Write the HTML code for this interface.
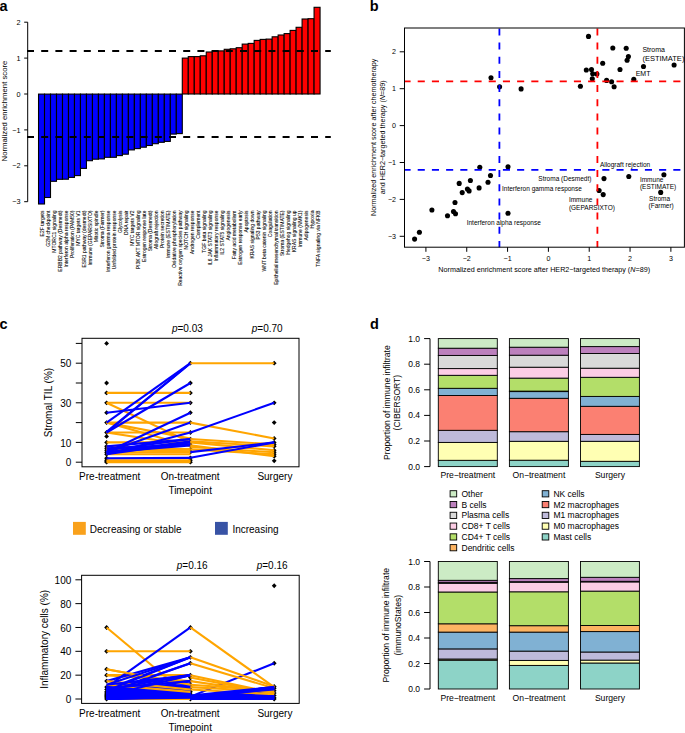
<!DOCTYPE html>
<html><head><meta charset="utf-8"><style>
html,body{margin:0;padding:0;background:#fff;}
svg{display:block;}
text{font-family:"Liberation Sans", sans-serif;}
</style></head><body>
<svg width="685" height="733" viewBox="0 0 685 733" font-family='"Liberation Sans", sans-serif'>
<rect width="685" height="733" fill="#fff"/>
<text x="-0.60" y="10.60" font-size="14.5" text-anchor="start" font-weight="bold" fill="#000">a</text>
<rect x="38.53" y="94.10" width="5.99" height="109.90" fill="#0000FF" stroke="#000" stroke-width="1.1"/><rect x="44.52" y="94.10" width="5.99" height="103.40" fill="#0000FF" stroke="#000" stroke-width="1.1"/><rect x="50.51" y="94.10" width="5.99" height="87.20" fill="#0000FF" stroke="#000" stroke-width="1.1"/><rect x="56.50" y="94.10" width="5.99" height="85.20" fill="#0000FF" stroke="#000" stroke-width="1.1"/><rect x="62.49" y="94.10" width="5.99" height="85.10" fill="#0000FF" stroke="#000" stroke-width="1.1"/><rect x="68.48" y="94.10" width="5.99" height="83.30" fill="#0000FF" stroke="#000" stroke-width="1.1"/><rect x="74.47" y="94.10" width="5.99" height="81.50" fill="#0000FF" stroke="#000" stroke-width="1.1"/><rect x="80.46" y="94.10" width="5.99" height="74.30" fill="#0000FF" stroke="#000" stroke-width="1.1"/><rect x="86.45" y="94.10" width="5.99" height="66.60" fill="#0000FF" stroke="#000" stroke-width="1.1"/><rect x="92.44" y="94.10" width="5.99" height="65.10" fill="#0000FF" stroke="#000" stroke-width="1.1"/><rect x="98.43" y="94.10" width="5.99" height="64.80" fill="#0000FF" stroke="#000" stroke-width="1.1"/><rect x="104.42" y="94.10" width="5.99" height="63.20" fill="#0000FF" stroke="#000" stroke-width="1.1"/><rect x="110.41" y="94.10" width="5.99" height="63.20" fill="#0000FF" stroke="#000" stroke-width="1.1"/><rect x="116.40" y="94.10" width="5.99" height="61.50" fill="#0000FF" stroke="#000" stroke-width="1.1"/><rect x="122.39" y="94.10" width="5.99" height="60.10" fill="#0000FF" stroke="#000" stroke-width="1.1"/><rect x="128.38" y="94.10" width="5.99" height="55.80" fill="#0000FF" stroke="#000" stroke-width="1.1"/><rect x="134.37" y="94.10" width="5.99" height="54.50" fill="#0000FF" stroke="#000" stroke-width="1.1"/><rect x="140.36" y="94.10" width="5.99" height="53.10" fill="#0000FF" stroke="#000" stroke-width="1.1"/><rect x="146.35" y="94.10" width="5.99" height="51.40" fill="#0000FF" stroke="#000" stroke-width="1.1"/><rect x="152.34" y="94.10" width="5.99" height="49.60" fill="#0000FF" stroke="#000" stroke-width="1.1"/><rect x="158.33" y="94.10" width="5.99" height="48.20" fill="#0000FF" stroke="#000" stroke-width="1.1"/><rect x="164.32" y="94.10" width="5.99" height="47.30" fill="#0000FF" stroke="#000" stroke-width="1.1"/><rect x="170.31" y="94.10" width="5.99" height="40.00" fill="#0000FF" stroke="#000" stroke-width="1.1"/><rect x="176.30" y="94.10" width="5.99" height="39.50" fill="#0000FF" stroke="#000" stroke-width="1.1"/><rect x="182.29" y="58.10" width="5.99" height="35.90" fill="#FF0000" stroke="#000" stroke-width="1.1"/><rect x="188.28" y="56.60" width="5.99" height="37.40" fill="#FF0000" stroke="#000" stroke-width="1.1"/><rect x="194.27" y="56.60" width="5.99" height="37.40" fill="#FF0000" stroke="#000" stroke-width="1.1"/><rect x="200.26" y="55.80" width="5.99" height="38.20" fill="#FF0000" stroke="#000" stroke-width="1.1"/><rect x="206.25" y="52.00" width="5.99" height="42.00" fill="#FF0000" stroke="#000" stroke-width="1.1"/><rect x="212.24" y="51.30" width="5.99" height="42.70" fill="#FF0000" stroke="#000" stroke-width="1.1"/><rect x="218.23" y="50.90" width="5.99" height="43.10" fill="#FF0000" stroke="#000" stroke-width="1.1"/><rect x="224.22" y="49.30" width="5.99" height="44.70" fill="#FF0000" stroke="#000" stroke-width="1.1"/><rect x="230.21" y="48.80" width="5.99" height="45.20" fill="#FF0000" stroke="#000" stroke-width="1.1"/><rect x="236.20" y="47.70" width="5.99" height="46.30" fill="#FF0000" stroke="#000" stroke-width="1.1"/><rect x="242.19" y="44.10" width="5.99" height="49.90" fill="#FF0000" stroke="#000" stroke-width="1.1"/><rect x="248.18" y="43.40" width="5.99" height="50.60" fill="#FF0000" stroke="#000" stroke-width="1.1"/><rect x="254.17" y="40.40" width="5.99" height="53.60" fill="#FF0000" stroke="#000" stroke-width="1.1"/><rect x="260.16" y="39.40" width="5.99" height="54.60" fill="#FF0000" stroke="#000" stroke-width="1.1"/><rect x="266.15" y="39.10" width="5.99" height="54.90" fill="#FF0000" stroke="#000" stroke-width="1.1"/><rect x="272.14" y="36.80" width="5.99" height="57.20" fill="#FF0000" stroke="#000" stroke-width="1.1"/><rect x="278.13" y="35.00" width="5.99" height="59.00" fill="#FF0000" stroke="#000" stroke-width="1.1"/><rect x="284.12" y="33.60" width="5.99" height="60.40" fill="#FF0000" stroke="#000" stroke-width="1.1"/><rect x="290.11" y="30.40" width="5.99" height="63.60" fill="#FF0000" stroke="#000" stroke-width="1.1"/><rect x="296.10" y="27.30" width="5.99" height="66.70" fill="#FF0000" stroke="#000" stroke-width="1.1"/><rect x="302.09" y="19.00" width="5.99" height="75.00" fill="#FF0000" stroke="#000" stroke-width="1.1"/><rect x="308.08" y="18.70" width="5.99" height="75.30" fill="#FF0000" stroke="#000" stroke-width="1.1"/><rect x="314.07" y="7.30" width="5.99" height="86.70" fill="#FF0000" stroke="#000" stroke-width="1.1"/>
<line x1="27" y1="50.9" x2="330.8" y2="50.9" stroke="#000" stroke-width="2" stroke-dasharray="7 7.2"/>
<line x1="27" y1="137.1" x2="330.8" y2="137.1" stroke="#000" stroke-width="2" stroke-dasharray="7 7.2"/>
<line x1="27.7" y1="22.20" x2="27.7" y2="201.70" stroke="#000" stroke-width="1"/>
<line x1="24.2" y1="22.20" x2="27.7" y2="22.20" stroke="#000" stroke-width="1"/>
<text x="20.60" y="24.80" font-size="7.3" text-anchor="end" fill="#000">2</text>
<line x1="24.2" y1="58.10" x2="27.7" y2="58.10" stroke="#000" stroke-width="1"/>
<text x="20.60" y="60.70" font-size="7.3" text-anchor="end" fill="#000">1</text>
<line x1="24.2" y1="94.00" x2="27.7" y2="94.00" stroke="#000" stroke-width="1"/>
<text x="20.60" y="96.60" font-size="7.3" text-anchor="end" fill="#000">0</text>
<line x1="24.2" y1="129.90" x2="27.7" y2="129.90" stroke="#000" stroke-width="1"/>
<text x="20.60" y="132.50" font-size="7.3" text-anchor="end" fill="#000">−1</text>
<line x1="24.2" y1="165.80" x2="27.7" y2="165.80" stroke="#000" stroke-width="1"/>
<text x="20.60" y="168.40" font-size="7.3" text-anchor="end" fill="#000">−2</text>
<line x1="24.2" y1="201.70" x2="27.7" y2="201.70" stroke="#000" stroke-width="1"/>
<text x="20.60" y="204.30" font-size="7.3" text-anchor="end" fill="#000">−3</text>
<text x="6.60" y="111.00" font-size="7.75" text-anchor="middle" transform="rotate(-90 6.6 111)" fill="#000">Normalized enrichment score</text>
<text x="43.62" y="210.50" font-size="5" text-anchor="end" transform="rotate(-90 43.625 210.5)" fill="#000" stroke="#000" stroke-width="0.07">E2F targets</text>
<text x="49.63" y="210.50" font-size="5" text-anchor="end" transform="rotate(-90 49.63 210.5)" fill="#000" stroke="#000" stroke-width="0.07">G2M checkpoint</text>
<text x="55.63" y="210.50" font-size="5" text-anchor="end" transform="rotate(-90 55.635 210.5)" fill="#000" stroke="#000" stroke-width="0.07">MTORC1 signaling</text>
<text x="61.64" y="210.50" font-size="5" text-anchor="end" transform="rotate(-90 61.64 210.5)" fill="#000" stroke="#000" stroke-width="0.07">ERBB2 pathway (Desmedt)</text>
<text x="67.64" y="210.50" font-size="5" text-anchor="end" transform="rotate(-90 67.645 210.5)" fill="#000" stroke="#000" stroke-width="0.07">Interferon alpha response</text>
<text x="73.65" y="210.50" font-size="5" text-anchor="end" transform="rotate(-90 73.64999999999999 210.5)" fill="#000" stroke="#000" stroke-width="0.07">Proliferation (PAM50)</text>
<text x="79.65" y="210.50" font-size="5" text-anchor="end" transform="rotate(-90 79.65499999999999 210.5)" fill="#000" stroke="#000" stroke-width="0.07">MYC targets V1</text>
<text x="85.66" y="210.50" font-size="5" text-anchor="end" transform="rotate(-90 85.65999999999998 210.5)" fill="#000" stroke="#000" stroke-width="0.07">ESR1 pathway (desmedt)</text>
<text x="91.66" y="210.50" font-size="5" text-anchor="end" transform="rotate(-90 91.66499999999999 210.5)" fill="#000" stroke="#000" stroke-width="0.07">Immune (GEPARSIXTO)</text>
<text x="97.67" y="210.50" font-size="5" text-anchor="end" transform="rotate(-90 97.67 210.5)" fill="#000" stroke="#000" stroke-width="0.07">Mitotic spindle</text>
<text x="103.67" y="210.50" font-size="5" text-anchor="end" transform="rotate(-90 103.675 210.5)" fill="#000" stroke="#000" stroke-width="0.07">Stroma (Farmer)</text>
<text x="109.68" y="210.50" font-size="5" text-anchor="end" transform="rotate(-90 109.67999999999999 210.5)" fill="#000" stroke="#000" stroke-width="0.07">Interferon gamma response</text>
<text x="115.68" y="210.50" font-size="5" text-anchor="end" transform="rotate(-90 115.68499999999999 210.5)" fill="#000" stroke="#000" stroke-width="0.07">Unfolded protein response</text>
<text x="121.69" y="210.50" font-size="5" text-anchor="end" transform="rotate(-90 121.68999999999998 210.5)" fill="#000" stroke="#000" stroke-width="0.07">Glycolysis</text>
<text x="127.69" y="210.50" font-size="5" text-anchor="end" transform="rotate(-90 127.69499999999998 210.5)" fill="#000" stroke="#000" stroke-width="0.07">DNA repair</text>
<text x="133.70" y="210.50" font-size="5" text-anchor="end" transform="rotate(-90 133.70000000000002 210.5)" fill="#000" stroke="#000" stroke-width="0.07">MYC targets V2</text>
<text x="139.71" y="210.50" font-size="5" text-anchor="end" transform="rotate(-90 139.705 210.5)" fill="#000" stroke="#000" stroke-width="0.07">PI3K AKT MTOR signaling</text>
<text x="145.71" y="210.50" font-size="5" text-anchor="end" transform="rotate(-90 145.71 210.5)" fill="#000" stroke="#000" stroke-width="0.07">Estrogen response late</text>
<text x="151.72" y="210.50" font-size="5" text-anchor="end" transform="rotate(-90 151.715 210.5)" fill="#000" stroke="#000" stroke-width="0.07">Stroma (Desmedt)</text>
<text x="157.72" y="210.50" font-size="5" text-anchor="end" transform="rotate(-90 157.72 210.5)" fill="#000" stroke="#000" stroke-width="0.07">Allograft rejection</text>
<text x="163.72" y="210.50" font-size="5" text-anchor="end" transform="rotate(-90 163.725 210.5)" fill="#000" stroke="#000" stroke-width="0.07">Protein secretion</text>
<text x="169.73" y="210.50" font-size="5" text-anchor="end" transform="rotate(-90 169.73000000000002 210.5)" fill="#000" stroke="#000" stroke-width="0.07">Immune (ESTIMATE)</text>
<text x="175.73" y="210.50" font-size="5" text-anchor="end" transform="rotate(-90 175.73499999999999 210.5)" fill="#000" stroke="#000" stroke-width="0.07">Oxidative phosphorylation</text>
<text x="181.74" y="210.50" font-size="5" text-anchor="end" transform="rotate(-90 181.74 210.5)" fill="#000" stroke="#000" stroke-width="0.07">Reactive oxygen species pathway</text>
<text x="187.75" y="210.50" font-size="5" text-anchor="end" transform="rotate(-90 187.745 210.5)" fill="#000" stroke="#000" stroke-width="0.07">NOTCH signaling</text>
<text x="193.75" y="210.50" font-size="5" text-anchor="end" transform="rotate(-90 193.75 210.5)" fill="#000" stroke="#000" stroke-width="0.07">Androgen response</text>
<text x="199.75" y="210.50" font-size="5" text-anchor="end" transform="rotate(-90 199.755 210.5)" fill="#000" stroke="#000" stroke-width="0.07">Complement</text>
<text x="205.76" y="210.50" font-size="5" text-anchor="end" transform="rotate(-90 205.76 210.5)" fill="#000" stroke="#000" stroke-width="0.07">TGF beta signaling</text>
<text x="211.76" y="210.50" font-size="5" text-anchor="end" transform="rotate(-90 211.765 210.5)" fill="#000" stroke="#000" stroke-width="0.07">IL6 JAK STAT3 signaling</text>
<text x="217.77" y="210.50" font-size="5" text-anchor="end" transform="rotate(-90 217.77 210.5)" fill="#000" stroke="#000" stroke-width="0.07">Inflammatory response</text>
<text x="223.78" y="210.50" font-size="5" text-anchor="end" transform="rotate(-90 223.775 210.5)" fill="#000" stroke="#000" stroke-width="0.07">IL2 STAT5 signaling</text>
<text x="229.78" y="210.50" font-size="5" text-anchor="end" transform="rotate(-90 229.78 210.5)" fill="#000" stroke="#000" stroke-width="0.07">Angiogenesis</text>
<text x="235.78" y="210.50" font-size="5" text-anchor="end" transform="rotate(-90 235.785 210.5)" fill="#000" stroke="#000" stroke-width="0.07">Fatty acid metabolism</text>
<text x="241.79" y="210.50" font-size="5" text-anchor="end" transform="rotate(-90 241.79 210.5)" fill="#000" stroke="#000" stroke-width="0.07">Estrogen response early</text>
<text x="247.79" y="210.50" font-size="5" text-anchor="end" transform="rotate(-90 247.795 210.5)" fill="#000" stroke="#000" stroke-width="0.07">Apoptosis</text>
<text x="253.80" y="210.50" font-size="5" text-anchor="end" transform="rotate(-90 253.79999999999998 210.5)" fill="#000" stroke="#000" stroke-width="0.07">KRAS signaling down</text>
<text x="259.81" y="210.50" font-size="5" text-anchor="end" transform="rotate(-90 259.805 210.5)" fill="#000" stroke="#000" stroke-width="0.07">P53 pathway</text>
<text x="265.81" y="210.50" font-size="5" text-anchor="end" transform="rotate(-90 265.81000000000006 210.5)" fill="#000" stroke="#000" stroke-width="0.07">WNT beta catenin signaling</text>
<text x="271.82" y="210.50" font-size="5" text-anchor="end" transform="rotate(-90 271.81500000000005 210.5)" fill="#000" stroke="#000" stroke-width="0.07">Coagulation</text>
<text x="277.82" y="210.50" font-size="5" text-anchor="end" transform="rotate(-90 277.82000000000005 210.5)" fill="#000" stroke="#000" stroke-width="0.07">Epithelial mesenchymal transition</text>
<text x="283.83" y="210.50" font-size="5" text-anchor="end" transform="rotate(-90 283.82500000000005 210.5)" fill="#000" stroke="#000" stroke-width="0.07">Stroma (ESTIMATE)</text>
<text x="289.83" y="210.50" font-size="5" text-anchor="end" transform="rotate(-90 289.83000000000004 210.5)" fill="#000" stroke="#000" stroke-width="0.07">Hedgehog signaling</text>
<text x="295.84" y="210.50" font-size="5" text-anchor="end" transform="rotate(-90 295.83500000000004 210.5)" fill="#000" stroke="#000" stroke-width="0.07">KRAS signaling up</text>
<text x="301.84" y="210.50" font-size="5" text-anchor="end" transform="rotate(-90 301.84000000000003 210.5)" fill="#000" stroke="#000" stroke-width="0.07">Immune (NMK1)</text>
<text x="307.85" y="210.50" font-size="5" text-anchor="end" transform="rotate(-90 307.845 210.5)" fill="#000" stroke="#000" stroke-width="0.07">Adipogenesis</text>
<text x="313.85" y="210.50" font-size="5" text-anchor="end" transform="rotate(-90 313.8500000000001 210.5)" fill="#000" stroke="#000" stroke-width="0.07">Hypoxia</text>
<text x="319.86" y="210.50" font-size="5" text-anchor="end" transform="rotate(-90 319.8550000000001 210.5)" fill="#000" stroke="#000" stroke-width="0.07">TNFA signaling via NFKB</text>
<text x="369.80" y="10.70" font-size="14.5" text-anchor="start" font-weight="bold" fill="#000">b</text>
<circle cx="414.6" cy="239.1" r="2.55" fill="#000"/><circle cx="419.4" cy="232.2" r="2.55" fill="#000"/><circle cx="431.9" cy="210.0" r="2.55" fill="#000"/><circle cx="447.5" cy="215.7" r="2.55" fill="#000"/><circle cx="453.5" cy="211.5" r="2.55" fill="#000"/><circle cx="455.5" cy="213.7" r="2.55" fill="#000"/><circle cx="455.0" cy="202.5" r="2.55" fill="#000"/><circle cx="459.2" cy="183.4" r="2.55" fill="#000"/><circle cx="462.2" cy="192.6" r="2.55" fill="#000"/><circle cx="467.4" cy="189.1" r="2.55" fill="#000"/><circle cx="469.1" cy="190.9" r="2.55" fill="#000"/><circle cx="470.4" cy="180.5" r="2.55" fill="#000"/><circle cx="479.1" cy="187.9" r="2.55" fill="#000"/><circle cx="479.8" cy="167.3" r="2.55" fill="#000"/><circle cx="488.0" cy="182.2" r="2.55" fill="#000"/><circle cx="490.5" cy="175.5" r="2.55" fill="#000"/><circle cx="508.0" cy="166.7" r="2.55" fill="#000"/><circle cx="508.0" cy="213.3" r="2.55" fill="#000"/><circle cx="491.0" cy="77.8" r="2.55" fill="#000"/><circle cx="499.6" cy="86.8" r="2.55" fill="#000"/><circle cx="521.1" cy="88.9" r="2.55" fill="#000"/><circle cx="588.5" cy="36.4" r="2.55" fill="#000"/><circle cx="612.8" cy="48.0" r="2.55" fill="#000"/><circle cx="626.2" cy="48.2" r="2.55" fill="#000"/><circle cx="628.4" cy="56.6" r="2.55" fill="#000"/><circle cx="627.1" cy="60.3" r="2.55" fill="#000"/><circle cx="602.7" cy="63.3" r="2.55" fill="#000"/><circle cx="643.5" cy="66.5" r="2.55" fill="#000"/><circle cx="674.1" cy="65.0" r="2.55" fill="#000"/><circle cx="620.0" cy="69.5" r="2.55" fill="#000"/><circle cx="586.3" cy="70.0" r="2.55" fill="#000"/><circle cx="591.5" cy="69.5" r="2.55" fill="#000"/><circle cx="592.7" cy="73.7" r="2.55" fill="#000"/><circle cx="596.9" cy="74.0" r="2.55" fill="#000"/><circle cx="592.3" cy="78.7" r="2.55" fill="#000"/><circle cx="633.8" cy="79.2" r="2.55" fill="#000"/><circle cx="606.6" cy="80.4" r="2.55" fill="#000"/><circle cx="611.6" cy="81.7" r="2.55" fill="#000"/><circle cx="614.1" cy="86.8" r="2.55" fill="#000"/><circle cx="580.4" cy="86.3" r="2.55" fill="#000"/><circle cx="604.0" cy="178.6" r="2.55" fill="#000"/><circle cx="628.8" cy="176.5" r="2.55" fill="#000"/><circle cx="663.9" cy="174.8" r="2.55" fill="#000"/><circle cx="599.1" cy="190.5" r="2.55" fill="#000"/><circle cx="603.2" cy="194.6" r="2.55" fill="#000"/><circle cx="660.7" cy="192.4" r="2.55" fill="#000"/>
<line x1="499.40" y1="28.4" x2="499.40" y2="247.2" stroke="#0000FF" stroke-width="1.8" stroke-dasharray="7 7.17"/>
<line x1="597.40" y1="28.4" x2="597.40" y2="247.2" stroke="#FF0000" stroke-width="1.8" stroke-dasharray="7 7.17"/>
<line x1="404.5" y1="81.32" x2="684.4" y2="81.32" stroke="#FF0000" stroke-width="1.8" stroke-dasharray="7.1 7.1" stroke-dashoffset="1.0"/>
<line x1="404.5" y1="169.88" x2="684.4" y2="169.88" stroke="#0000FF" stroke-width="1.8" stroke-dasharray="7.1 7.1" stroke-dashoffset="1.0"/>
<rect x="404.5" y="28.0" width="279.9" height="219.2" fill="none" stroke="#000" stroke-width="1"/>
<line x1="425.91" y1="247.2" x2="425.91" y2="251.79999999999998" stroke="#000" stroke-width="1"/>
<text x="425.91" y="261.00" font-size="7.1" text-anchor="middle" fill="#000">−3</text>
<line x1="466.74" y1="247.2" x2="466.74" y2="251.79999999999998" stroke="#000" stroke-width="1"/>
<text x="466.74" y="261.00" font-size="7.1" text-anchor="middle" fill="#000">−2</text>
<line x1="507.57" y1="247.2" x2="507.57" y2="251.79999999999998" stroke="#000" stroke-width="1"/>
<text x="507.57" y="261.00" font-size="7.1" text-anchor="middle" fill="#000">−1</text>
<line x1="548.40" y1="247.2" x2="548.40" y2="251.79999999999998" stroke="#000" stroke-width="1"/>
<text x="548.40" y="261.00" font-size="7.1" text-anchor="middle" fill="#000">0</text>
<line x1="589.23" y1="247.2" x2="589.23" y2="251.79999999999998" stroke="#000" stroke-width="1"/>
<text x="589.23" y="261.00" font-size="7.1" text-anchor="middle" fill="#000">1</text>
<line x1="630.06" y1="247.2" x2="630.06" y2="251.79999999999998" stroke="#000" stroke-width="1"/>
<text x="630.06" y="261.00" font-size="7.1" text-anchor="middle" fill="#000">2</text>
<line x1="670.89" y1="247.2" x2="670.89" y2="251.79999999999998" stroke="#000" stroke-width="1"/>
<text x="670.89" y="261.00" font-size="7.1" text-anchor="middle" fill="#000">3</text>
<line x1="399.7" y1="51.80" x2="404.5" y2="51.80" stroke="#000" stroke-width="1"/>
<text x="396.00" y="54.30" font-size="7.1" text-anchor="end" fill="#000">2</text>
<line x1="399.7" y1="88.70" x2="404.5" y2="88.70" stroke="#000" stroke-width="1"/>
<text x="396.00" y="91.20" font-size="7.1" text-anchor="end" fill="#000">1</text>
<line x1="399.7" y1="125.60" x2="404.5" y2="125.60" stroke="#000" stroke-width="1"/>
<text x="396.00" y="128.10" font-size="7.1" text-anchor="end" fill="#000">0</text>
<line x1="399.7" y1="162.50" x2="404.5" y2="162.50" stroke="#000" stroke-width="1"/>
<text x="396.00" y="165.00" font-size="7.1" text-anchor="end" fill="#000">−1</text>
<line x1="399.7" y1="199.40" x2="404.5" y2="199.40" stroke="#000" stroke-width="1"/>
<text x="396.00" y="201.90" font-size="7.1" text-anchor="end" fill="#000">−2</text>
<line x1="399.7" y1="236.30" x2="404.5" y2="236.30" stroke="#000" stroke-width="1"/>
<text x="396.00" y="238.80" font-size="7.1" text-anchor="end" fill="#000">−3</text>
<text x="544.20" y="272.00" font-size="7.2" text-anchor="middle" fill="#000">Normalized enrichment score after HER2−targeted therapy (<tspan font-style="italic">N</tspan>=89)</text>
<text x="376.20" y="137.30" font-size="7.2" text-anchor="middle" transform="rotate(-90 376.2 137.3)" fill="#000">Normalized enrichment score after chemotherapy</text>
<text x="384.70" y="137.30" font-size="7.2" text-anchor="middle" transform="rotate(-90 384.7 137.3)" fill="#000">and HER2−targeted therapy (<tspan font-style="italic">N</tspan>=89)</text>
<text x="642.40" y="51.80" font-size="7.0" text-anchor="start" fill="#000">Stroma</text>
<text x="642.40" y="60.60" font-size="7.05" text-anchor="start" fill="#000" textLength="42.0" lengthAdjust="spacingAndGlyphs">(ESTIMATE)</text>
<text x="635.70" y="75.60" font-size="7.0" text-anchor="start" fill="#000">EMT</text>
<text x="599.90" y="166.50" font-size="6.5" text-anchor="start" fill="#000">Allograft rejection</text>
<text x="538.30" y="180.60" font-size="6.5" text-anchor="start" fill="#000">Stroma (Desmedt)</text>
<text x="502.00" y="190.50" font-size="6.5" text-anchor="start" fill="#000">Interferon gamma response</text>
<text x="568.90" y="202.30" font-size="6.5" text-anchor="start" fill="#000">Immune</text>
<text x="568.90" y="209.80" font-size="6.5" text-anchor="start" fill="#000">(GEPARSIXTO)</text>
<text x="639.90" y="182.20" font-size="6.5" text-anchor="start" fill="#000">Immune</text>
<text x="639.90" y="189.20" font-size="6.5" text-anchor="start" fill="#000">(ESTIMATE)</text>
<text x="649.10" y="200.80" font-size="6.5" text-anchor="start" fill="#000">Stroma</text>
<text x="648.50" y="208.40" font-size="6.5" text-anchor="start" fill="#000">(Farmer)</text>
<text x="466.70" y="224.60" font-size="6.5" text-anchor="start" fill="#000">Interferon alpha response</text>
<text x="-0.60" y="329.10" font-size="14.5" text-anchor="start" font-weight="bold" fill="#000">c</text>
<path d="M106.60 341.00L109.00 343.40L106.60 345.80L104.20 343.40Z" fill="#000"/><path d="M106.60 380.60L109.00 383.00L106.60 385.40L104.20 383.00Z" fill="#000"/><path d="M106.60 390.50L109.00 392.90L106.60 395.30L104.20 392.90Z" fill="#000"/><path d="M106.60 400.40L109.00 402.80L106.60 405.20L104.20 402.80Z" fill="#000"/><path d="M106.60 410.30L109.00 412.70L106.60 415.10L104.20 412.70Z" fill="#000"/><path d="M106.60 420.20L109.00 422.60L106.60 425.00L104.20 422.60Z" fill="#000"/><path d="M106.60 430.10L109.00 432.50L106.60 434.90L104.20 432.50Z" fill="#000"/><path d="M106.60 434.06L109.00 436.46L106.60 438.86L104.20 436.46Z" fill="#000"/><path d="M106.60 440.00L109.00 442.40L106.60 444.80L104.20 442.40Z" fill="#000"/><path d="M106.60 443.96L109.00 446.36L106.60 448.76L104.20 446.36Z" fill="#000"/><path d="M106.60 445.94L109.00 448.34L106.60 450.74L104.20 448.34Z" fill="#000"/><path d="M106.60 447.92L109.00 450.32L106.60 452.72L104.20 450.32Z" fill="#000"/><path d="M106.60 449.90L109.00 452.30L106.60 454.70L104.20 452.30Z" fill="#000"/><path d="M106.60 451.88L109.00 454.28L106.60 456.68L104.20 454.28Z" fill="#000"/><path d="M106.60 455.84L109.00 458.24L106.60 460.64L104.20 458.24Z" fill="#000"/><path d="M106.60 457.82L109.00 460.22L106.60 462.62L104.20 460.22Z" fill="#000"/><path d="M106.60 458.81L109.00 461.21L106.60 463.61L104.20 461.21Z" fill="#000"/><path d="M106.60 459.80L109.00 462.20L106.60 464.60L104.20 462.20Z" fill="#000"/><path d="M190.40 360.80L192.80 363.20L190.40 365.60L188.00 363.20Z" fill="#000"/><path d="M190.40 380.60L192.80 383.00L190.40 385.40L188.00 383.00Z" fill="#000"/><path d="M190.40 390.50L192.80 392.90L190.40 395.30L188.00 392.90Z" fill="#000"/><path d="M190.40 400.40L192.80 402.80L190.40 405.20L188.00 402.80Z" fill="#000"/><path d="M190.40 410.30L192.80 412.70L190.40 415.10L188.00 412.70Z" fill="#000"/><path d="M190.40 420.20L192.80 422.60L190.40 425.00L188.00 422.60Z" fill="#000"/><path d="M190.40 430.10L192.80 432.50L190.40 434.90L188.00 432.50Z" fill="#000"/><path d="M190.40 436.63L192.80 439.03L190.40 441.43L188.00 439.03Z" fill="#000"/><path d="M190.40 440.00L192.80 442.40L190.40 444.80L188.00 442.40Z" fill="#000"/><path d="M190.40 442.97L192.80 445.37L190.40 447.77L188.00 445.37Z" fill="#000"/><path d="M190.40 446.93L192.80 449.33L190.40 451.73L188.00 449.33Z" fill="#000"/><path d="M190.40 449.70L192.80 452.10L190.40 454.50L188.00 452.10Z" fill="#000"/><path d="M190.40 455.44L192.80 457.84L190.40 460.24L188.00 457.84Z" fill="#000"/><path d="M190.40 457.82L192.80 460.22L190.40 462.62L188.00 460.22Z" fill="#000"/><path d="M190.40 459.80L192.80 462.20L190.40 464.60L188.00 462.20Z" fill="#000"/><path d="M274.20 360.80L276.60 363.20L274.20 365.60L271.80 363.20Z" fill="#000"/><path d="M274.20 400.40L276.60 402.80L274.20 405.20L271.80 402.80Z" fill="#000"/><path d="M274.20 420.20L276.60 422.60L274.20 425.00L271.80 422.60Z" fill="#000"/><path d="M274.20 436.04L276.60 438.44L274.20 440.84L271.80 438.44Z" fill="#000"/><path d="M274.20 440.00L276.60 442.40L274.20 444.80L271.80 442.40Z" fill="#000"/><path d="M274.20 441.98L276.60 444.38L274.20 446.78L271.80 444.38Z" fill="#000"/><path d="M274.20 443.96L276.60 446.36L274.20 448.76L271.80 446.36Z" fill="#000"/><path d="M274.20 447.92L276.60 450.32L274.20 452.72L271.80 450.32Z" fill="#000"/><path d="M274.20 449.90L276.60 452.30L274.20 454.70L271.80 452.30Z" fill="#000"/><path d="M274.20 451.88L276.60 454.28L274.20 456.68L271.80 454.28Z" fill="#000"/><path d="M274.20 453.86L276.60 456.26L274.20 458.66L271.80 456.26Z" fill="#000"/><path d="M274.20 458.41L276.60 460.81L274.20 463.21L271.80 460.81Z" fill="#000"/>
<line x1="106.60" y1="392.90" x2="190.40" y2="392.90" stroke="#FFA500" stroke-width="2.1"/><line x1="106.60" y1="402.80" x2="190.40" y2="402.80" stroke="#FFA500" stroke-width="2.1"/><line x1="106.60" y1="402.80" x2="190.40" y2="442.40" stroke="#FFA500" stroke-width="2.1"/><line x1="106.60" y1="422.60" x2="190.40" y2="422.60" stroke="#FFA500" stroke-width="2.1"/><line x1="106.60" y1="422.60" x2="190.40" y2="438.44" stroke="#FFA500" stroke-width="2.1"/><line x1="106.60" y1="422.60" x2="190.40" y2="446.36" stroke="#FFA500" stroke-width="2.1"/><line x1="106.60" y1="432.50" x2="190.40" y2="432.50" stroke="#FFA500" stroke-width="2.1"/><line x1="106.60" y1="432.50" x2="190.40" y2="445.37" stroke="#FFA500" stroke-width="2.1"/><line x1="106.60" y1="442.40" x2="190.40" y2="442.40" stroke="#FFA500" stroke-width="2.1"/><line x1="106.60" y1="446.36" x2="190.40" y2="449.33" stroke="#FFA500" stroke-width="2.1"/><line x1="106.60" y1="448.34" x2="190.40" y2="452.10" stroke="#FFA500" stroke-width="2.1"/><line x1="106.60" y1="450.32" x2="190.40" y2="449.33" stroke="#FFA500" stroke-width="2.1"/><line x1="106.60" y1="452.30" x2="190.40" y2="452.10" stroke="#FFA500" stroke-width="2.1"/><line x1="106.60" y1="454.28" x2="190.40" y2="454.28" stroke="#FFA500" stroke-width="2.1"/><line x1="106.60" y1="460.22" x2="190.40" y2="460.22" stroke="#FFA500" stroke-width="2.1"/><line x1="106.60" y1="461.21" x2="190.40" y2="461.21" stroke="#FFA500" stroke-width="2.1"/><line x1="106.60" y1="462.20" x2="190.40" y2="462.20" stroke="#FFA500" stroke-width="2.1"/><line x1="106.60" y1="449.33" x2="190.40" y2="451.31" stroke="#FFA500" stroke-width="2.1"/><line x1="106.60" y1="432.50" x2="190.40" y2="363.20" stroke="#0000FF" stroke-width="2.1"/><line x1="106.60" y1="431.91" x2="190.40" y2="363.20" stroke="#0000FF" stroke-width="2.1"/><line x1="106.60" y1="422.60" x2="190.40" y2="363.20" stroke="#0000FF" stroke-width="2.1"/><line x1="106.60" y1="432.50" x2="190.40" y2="383.00" stroke="#0000FF" stroke-width="2.1"/><line x1="106.60" y1="412.70" x2="190.40" y2="402.80" stroke="#0000FF" stroke-width="2.1"/><line x1="106.60" y1="452.30" x2="190.40" y2="412.70" stroke="#0000FF" stroke-width="2.1"/><line x1="106.60" y1="452.30" x2="190.40" y2="422.60" stroke="#0000FF" stroke-width="2.1"/><line x1="106.60" y1="454.28" x2="190.40" y2="432.50" stroke="#0000FF" stroke-width="2.1"/><line x1="106.60" y1="446.36" x2="190.40" y2="439.03" stroke="#0000FF" stroke-width="2.1"/><line x1="106.60" y1="450.32" x2="190.40" y2="439.03" stroke="#0000FF" stroke-width="2.1"/><line x1="106.60" y1="452.30" x2="190.40" y2="441.41" stroke="#0000FF" stroke-width="2.1"/><line x1="106.60" y1="454.28" x2="190.40" y2="442.40" stroke="#0000FF" stroke-width="2.1"/><line x1="106.60" y1="448.34" x2="190.40" y2="444.38" stroke="#0000FF" stroke-width="2.1"/><line x1="106.60" y1="452.30" x2="190.40" y2="445.37" stroke="#0000FF" stroke-width="2.1"/><line x1="106.60" y1="458.24" x2="190.40" y2="457.84" stroke="#0000FF" stroke-width="2.1"/><line x1="190.40" y1="363.20" x2="274.20" y2="363.20" stroke="#FFA500" stroke-width="2.1"/><line x1="190.40" y1="422.60" x2="274.20" y2="438.44" stroke="#FFA500" stroke-width="2.1"/><line x1="190.40" y1="439.03" x2="274.20" y2="444.38" stroke="#FFA500" stroke-width="2.1"/><line x1="190.40" y1="442.40" x2="274.20" y2="450.32" stroke="#FFA500" stroke-width="2.1"/><line x1="190.40" y1="445.37" x2="274.20" y2="456.26" stroke="#FFA500" stroke-width="2.1"/><line x1="190.40" y1="446.95" x2="274.20" y2="452.30" stroke="#FFA500" stroke-width="2.1"/><line x1="190.40" y1="449.33" x2="274.20" y2="454.28" stroke="#FFA500" stroke-width="2.1"/><line x1="190.40" y1="441.41" x2="274.20" y2="446.36" stroke="#FFA500" stroke-width="2.1"/><line x1="190.40" y1="432.50" x2="274.20" y2="402.80" stroke="#0000FF" stroke-width="2.1"/><line x1="190.40" y1="452.10" x2="274.20" y2="442.40" stroke="#0000FF" stroke-width="2.1"/><line x1="190.40" y1="457.84" x2="274.20" y2="442.40" stroke="#0000FF" stroke-width="2.1"/>
<rect x="82.0" y="338.3" width="217.0" height="128.5" fill="none" stroke="#000" stroke-width="1"/>
<line x1="75.80" y1="462.20" x2="82.0" y2="462.20" stroke="#000" stroke-width="1"/>
<line x1="75.80" y1="442.40" x2="82.0" y2="442.40" stroke="#000" stroke-width="1"/>
<line x1="75.80" y1="422.60" x2="82.0" y2="422.60" stroke="#000" stroke-width="1"/>
<line x1="75.80" y1="402.80" x2="82.0" y2="402.80" stroke="#000" stroke-width="1"/>
<line x1="75.80" y1="383.00" x2="82.0" y2="383.00" stroke="#000" stroke-width="1"/>
<line x1="75.80" y1="363.20" x2="82.0" y2="363.20" stroke="#000" stroke-width="1"/>
<line x1="75.80" y1="343.40" x2="82.0" y2="343.40" stroke="#000" stroke-width="1"/>
<text x="71.30" y="466.30" font-size="10" text-anchor="end" fill="#000">0</text>
<text x="71.30" y="446.50" font-size="10" text-anchor="end" fill="#000">10</text>
<text x="71.30" y="406.90" font-size="10" text-anchor="end" fill="#000">30</text>
<text x="71.30" y="367.30" font-size="10" text-anchor="end" fill="#000">50</text>
<text x="171.90" y="332.10" font-size="10"><tspan font-style="italic">p</tspan>=0.03</text>
<text x="251.80" y="332.10" font-size="10"><tspan font-style="italic">p</tspan>=0.70</text>
<text x="79.10" y="480.20" font-size="10" text-anchor="start" fill="#000">Pre-treatment</text>
<text x="160.70" y="480.20" font-size="10" text-anchor="start" fill="#000">On-treatment</text>
<text x="257.40" y="480.20" font-size="10" text-anchor="start" fill="#000">Surgery</text>
<text x="168.40" y="494.30" font-size="10" text-anchor="start" fill="#000">Timepoint</text>
<text x="52.30" y="402.55" font-size="10" text-anchor="middle" transform="rotate(-90 52.3 402.55)" fill="#000">Stromal TIL (%)</text>
<path d="M106.60 625.08L109.00 627.48L106.60 629.88L104.20 627.48Z" fill="#000"/><path d="M106.60 648.92L109.00 651.32L106.60 653.72L104.20 651.32Z" fill="#000"/><path d="M106.60 666.80L109.00 669.20L106.60 671.60L104.20 669.20Z" fill="#000"/><path d="M106.60 672.76L109.00 675.16L106.60 677.56L104.20 675.16Z" fill="#000"/><path d="M106.60 678.72L109.00 681.12L106.60 683.52L104.20 681.12Z" fill="#000"/><path d="M106.60 684.68L109.00 687.08L106.60 689.48L104.20 687.08Z" fill="#000"/><path d="M106.60 687.06L109.00 689.46L106.60 691.86L104.20 689.46Z" fill="#000"/><path d="M106.60 689.45L109.00 691.85L106.60 694.25L104.20 691.85Z" fill="#000"/><path d="M106.60 690.64L109.00 693.04L106.60 695.44L104.20 693.04Z" fill="#000"/><path d="M106.60 691.83L109.00 694.23L106.60 696.63L104.20 694.23Z" fill="#000"/><path d="M106.60 693.02L109.00 695.42L106.60 697.82L104.20 695.42Z" fill="#000"/><path d="M106.60 694.22L109.00 696.62L106.60 699.02L104.20 696.62Z" fill="#000"/><path d="M106.60 695.41L109.00 697.81L106.60 700.21L104.20 697.81Z" fill="#000"/><path d="M106.60 696.60L109.00 699.00L106.60 701.40L104.20 699.00Z" fill="#000"/><path d="M190.40 625.08L192.80 627.48L190.40 629.88L188.00 627.48Z" fill="#000"/><path d="M190.40 648.92L192.80 651.32L190.40 653.72L188.00 651.32Z" fill="#000"/><path d="M190.40 654.88L192.80 657.28L190.40 659.68L188.00 657.28Z" fill="#000"/><path d="M190.40 660.84L192.80 663.24L190.40 665.64L188.00 663.24Z" fill="#000"/><path d="M190.40 672.76L192.80 675.16L190.40 677.56L188.00 675.16Z" fill="#000"/><path d="M190.40 675.14L192.80 677.54L190.40 679.94L188.00 677.54Z" fill="#000"/><path d="M190.40 678.72L192.80 681.12L190.40 683.52L188.00 681.12Z" fill="#000"/><path d="M190.40 682.30L192.80 684.70L190.40 687.10L188.00 684.70Z" fill="#000"/><path d="M190.40 684.68L192.80 687.08L190.40 689.48L188.00 687.08Z" fill="#000"/><path d="M190.40 687.06L192.80 689.46L190.40 691.86L188.00 689.46Z" fill="#000"/><path d="M190.40 689.45L192.80 691.85L190.40 694.25L188.00 691.85Z" fill="#000"/><path d="M190.40 691.83L192.80 694.23L190.40 696.63L188.00 694.23Z" fill="#000"/><path d="M190.40 694.22L192.80 696.62L190.40 699.02L188.00 696.62Z" fill="#000"/><path d="M190.40 696.60L192.80 699.00L190.40 701.40L188.00 699.00Z" fill="#000"/><path d="M274.20 583.36L276.60 585.76L274.20 588.16L271.80 585.76Z" fill="#000"/><path d="M274.20 660.84L276.60 663.24L274.20 665.64L271.80 663.24Z" fill="#000"/><path d="M274.20 684.08L276.60 686.48L274.20 688.88L271.80 686.48Z" fill="#000"/><path d="M274.20 685.87L276.60 688.27L274.20 690.67L271.80 688.27Z" fill="#000"/><path d="M274.20 688.26L276.60 690.66L274.20 693.06L271.80 690.66Z" fill="#000"/><path d="M274.20 690.64L276.60 693.04L274.20 695.44L271.80 693.04Z" fill="#000"/><path d="M274.20 693.02L276.60 695.42L274.20 697.82L271.80 695.42Z" fill="#000"/><path d="M274.20 695.41L276.60 697.81L274.20 700.21L271.80 697.81Z" fill="#000"/><path d="M274.20 696.60L276.60 699.00L274.20 701.40L271.80 699.00Z" fill="#000"/>
<line x1="106.60" y1="627.48" x2="190.40" y2="697.81" stroke="#FFA500" stroke-width="2.1"/><line x1="106.60" y1="651.32" x2="190.40" y2="651.32" stroke="#FFA500" stroke-width="2.1"/><line x1="106.60" y1="669.20" x2="190.40" y2="684.70" stroke="#FFA500" stroke-width="2.1"/><line x1="106.60" y1="675.16" x2="190.40" y2="675.16" stroke="#FFA500" stroke-width="2.1"/><line x1="106.60" y1="675.16" x2="190.40" y2="681.12" stroke="#FFA500" stroke-width="2.1"/><line x1="106.60" y1="689.46" x2="190.40" y2="696.62" stroke="#FFA500" stroke-width="2.1"/><line x1="106.60" y1="691.85" x2="190.40" y2="697.81" stroke="#FFA500" stroke-width="2.1"/><line x1="106.60" y1="693.04" x2="190.40" y2="699.00" stroke="#FFA500" stroke-width="2.1"/><line x1="106.60" y1="694.23" x2="190.40" y2="698.40" stroke="#FFA500" stroke-width="2.1"/><line x1="106.60" y1="699.00" x2="190.40" y2="699.00" stroke="#FFA500" stroke-width="2.1"/><line x1="106.60" y1="698.76" x2="190.40" y2="699.00" stroke="#FFA500" stroke-width="2.1"/><line x1="106.60" y1="687.08" x2="190.40" y2="627.48" stroke="#0000FF" stroke-width="2.1"/><line x1="106.60" y1="681.12" x2="190.40" y2="657.28" stroke="#0000FF" stroke-width="2.1"/><line x1="106.60" y1="689.46" x2="190.40" y2="657.28" stroke="#0000FF" stroke-width="2.1"/><line x1="106.60" y1="691.85" x2="190.40" y2="663.24" stroke="#0000FF" stroke-width="2.1"/><line x1="106.60" y1="687.08" x2="190.40" y2="675.16" stroke="#0000FF" stroke-width="2.1"/><line x1="106.60" y1="693.04" x2="190.40" y2="675.16" stroke="#0000FF" stroke-width="2.1"/><line x1="106.60" y1="695.42" x2="190.40" y2="681.12" stroke="#0000FF" stroke-width="2.1"/><line x1="106.60" y1="689.46" x2="190.40" y2="681.12" stroke="#0000FF" stroke-width="2.1"/><line x1="106.60" y1="693.04" x2="190.40" y2="684.70" stroke="#0000FF" stroke-width="2.1"/><line x1="106.60" y1="696.62" x2="190.40" y2="687.08" stroke="#0000FF" stroke-width="2.1"/><line x1="106.60" y1="694.23" x2="190.40" y2="687.08" stroke="#0000FF" stroke-width="2.1"/><line x1="106.60" y1="691.85" x2="190.40" y2="686.48" stroke="#0000FF" stroke-width="2.1"/><line x1="106.60" y1="697.81" x2="190.40" y2="689.46" stroke="#0000FF" stroke-width="2.1"/><line x1="106.60" y1="695.42" x2="190.40" y2="689.46" stroke="#0000FF" stroke-width="2.1"/><line x1="106.60" y1="690.66" x2="190.40" y2="688.27" stroke="#0000FF" stroke-width="2.1"/><line x1="106.60" y1="696.62" x2="190.40" y2="691.85" stroke="#0000FF" stroke-width="2.1"/><line x1="106.60" y1="699.00" x2="190.40" y2="693.04" stroke="#0000FF" stroke-width="2.1"/><line x1="106.60" y1="697.81" x2="190.40" y2="693.04" stroke="#0000FF" stroke-width="2.1"/><line x1="106.60" y1="694.23" x2="190.40" y2="691.85" stroke="#0000FF" stroke-width="2.1"/><line x1="106.60" y1="699.00" x2="190.40" y2="694.23" stroke="#0000FF" stroke-width="2.1"/><line x1="106.60" y1="696.62" x2="190.40" y2="694.23" stroke="#0000FF" stroke-width="2.1"/><line x1="106.60" y1="697.81" x2="190.40" y2="695.42" stroke="#0000FF" stroke-width="2.1"/><line x1="106.60" y1="695.42" x2="190.40" y2="694.23" stroke="#0000FF" stroke-width="2.1"/><line x1="106.60" y1="699.00" x2="190.40" y2="696.62" stroke="#0000FF" stroke-width="2.1"/><line x1="106.60" y1="697.81" x2="190.40" y2="696.62" stroke="#0000FF" stroke-width="2.1"/><line x1="106.60" y1="699.00" x2="190.40" y2="697.81" stroke="#0000FF" stroke-width="2.1"/><line x1="106.60" y1="698.40" x2="190.40" y2="697.21" stroke="#0000FF" stroke-width="2.1"/><line x1="106.60" y1="688.27" x2="190.40" y2="684.70" stroke="#0000FF" stroke-width="2.1"/><line x1="106.60" y1="690.66" x2="190.40" y2="685.89" stroke="#0000FF" stroke-width="2.1"/><line x1="106.60" y1="693.04" x2="190.40" y2="689.46" stroke="#0000FF" stroke-width="2.1"/><line x1="106.60" y1="691.85" x2="190.40" y2="690.66" stroke="#0000FF" stroke-width="2.1"/><line x1="106.60" y1="689.46" x2="190.40" y2="688.27" stroke="#0000FF" stroke-width="2.1"/><line x1="106.60" y1="688.27" x2="190.40" y2="687.08" stroke="#0000FF" stroke-width="2.1"/><line x1="106.60" y1="694.23" x2="190.40" y2="693.04" stroke="#0000FF" stroke-width="2.1"/><line x1="106.60" y1="696.62" x2="190.40" y2="695.42" stroke="#0000FF" stroke-width="2.1"/><line x1="106.60" y1="699.00" x2="190.40" y2="695.42" stroke="#0000FF" stroke-width="2.1"/><line x1="106.60" y1="697.81" x2="190.40" y2="694.23" stroke="#0000FF" stroke-width="2.1"/><line x1="106.60" y1="699.00" x2="190.40" y2="691.85" stroke="#0000FF" stroke-width="2.1"/><line x1="106.60" y1="696.62" x2="190.40" y2="690.66" stroke="#0000FF" stroke-width="2.1"/><line x1="106.60" y1="695.42" x2="190.40" y2="688.27" stroke="#0000FF" stroke-width="2.1"/><line x1="106.60" y1="698.40" x2="190.40" y2="696.02" stroke="#0000FF" stroke-width="2.1"/><line x1="106.60" y1="681.12" x2="190.40" y2="689.46" stroke="#FFA500" stroke-width="2.1"/><line x1="106.60" y1="684.70" x2="190.40" y2="691.85" stroke="#FFA500" stroke-width="2.1"/><line x1="106.60" y1="669.20" x2="190.40" y2="684.70" stroke="#FFA500" stroke-width="2.1"/><line x1="106.60" y1="684.70" x2="190.40" y2="657.28" stroke="#0000FF" stroke-width="2.1"/><line x1="106.60" y1="690.66" x2="190.40" y2="657.28" stroke="#0000FF" stroke-width="2.1"/><line x1="106.60" y1="693.04" x2="190.40" y2="663.24" stroke="#0000FF" stroke-width="2.1"/><line x1="106.60" y1="689.46" x2="190.40" y2="675.16" stroke="#0000FF" stroke-width="2.1"/><line x1="106.60" y1="684.70" x2="190.40" y2="675.16" stroke="#0000FF" stroke-width="2.1"/><line x1="106.60" y1="695.42" x2="190.40" y2="675.16" stroke="#0000FF" stroke-width="2.1"/><line x1="106.60" y1="688.27" x2="190.40" y2="681.12" stroke="#0000FF" stroke-width="2.1"/><line x1="190.40" y1="696.62" x2="274.20" y2="663.24" stroke="#0000FF" stroke-width="2.1"/><line x1="190.40" y1="699.00" x2="274.20" y2="686.48" stroke="#0000FF" stroke-width="2.1"/><line x1="190.40" y1="699.00" x2="274.20" y2="687.68" stroke="#0000FF" stroke-width="2.1"/><line x1="190.40" y1="697.81" x2="274.20" y2="688.87" stroke="#0000FF" stroke-width="2.1"/><line x1="190.40" y1="699.00" x2="274.20" y2="690.66" stroke="#0000FF" stroke-width="2.1"/><line x1="190.40" y1="697.81" x2="274.20" y2="691.85" stroke="#0000FF" stroke-width="2.1"/><line x1="190.40" y1="699.00" x2="274.20" y2="693.04" stroke="#0000FF" stroke-width="2.1"/><line x1="190.40" y1="696.62" x2="274.20" y2="694.23" stroke="#0000FF" stroke-width="2.1"/><line x1="190.40" y1="699.00" x2="274.20" y2="695.42" stroke="#0000FF" stroke-width="2.1"/><line x1="190.40" y1="697.81" x2="274.20" y2="696.62" stroke="#0000FF" stroke-width="2.1"/><line x1="190.40" y1="699.00" x2="274.20" y2="697.81" stroke="#0000FF" stroke-width="2.1"/><line x1="190.40" y1="698.40" x2="274.20" y2="698.40" stroke="#0000FF" stroke-width="2.1"/><line x1="190.40" y1="697.81" x2="274.20" y2="687.08" stroke="#0000FF" stroke-width="2.1"/><line x1="190.40" y1="696.62" x2="274.20" y2="688.27" stroke="#0000FF" stroke-width="2.1"/><line x1="190.40" y1="699.00" x2="274.20" y2="699.00" stroke="#0000FF" stroke-width="2.1"/><line x1="190.40" y1="697.81" x2="274.20" y2="697.81" stroke="#0000FF" stroke-width="2.1"/><line x1="190.40" y1="627.48" x2="274.20" y2="687.08" stroke="#FFA500" stroke-width="2.1"/><line x1="190.40" y1="657.28" x2="274.20" y2="686.48" stroke="#FFA500" stroke-width="2.1"/><line x1="190.40" y1="663.24" x2="274.20" y2="688.27" stroke="#FFA500" stroke-width="2.1"/><line x1="190.40" y1="675.16" x2="274.20" y2="693.04" stroke="#FFA500" stroke-width="2.1"/><line x1="190.40" y1="677.54" x2="274.20" y2="693.64" stroke="#FFA500" stroke-width="2.1"/><line x1="190.40" y1="681.12" x2="274.20" y2="693.04" stroke="#FFA500" stroke-width="2.1"/><line x1="190.40" y1="687.08" x2="274.20" y2="691.85" stroke="#FFA500" stroke-width="2.1"/><line x1="190.40" y1="689.46" x2="274.20" y2="694.23" stroke="#FFA500" stroke-width="2.1"/><line x1="190.40" y1="684.70" x2="274.20" y2="690.66" stroke="#FFA500" stroke-width="2.1"/><line x1="190.40" y1="699.00" x2="274.20" y2="688.27" stroke="#0000FF" stroke-width="2.1"/><line x1="190.40" y1="697.81" x2="274.20" y2="686.84" stroke="#0000FF" stroke-width="2.1"/><line x1="190.40" y1="698.40" x2="274.20" y2="697.21" stroke="#0000FF" stroke-width="2.1"/><line x1="190.40" y1="699.00" x2="274.20" y2="698.40" stroke="#0000FF" stroke-width="2.1"/><line x1="190.40" y1="695.42" x2="274.20" y2="687.08" stroke="#0000FF" stroke-width="2.1"/><line x1="190.40" y1="696.62" x2="274.20" y2="689.46" stroke="#0000FF" stroke-width="2.1"/><line x1="190.40" y1="697.81" x2="274.20" y2="696.02" stroke="#0000FF" stroke-width="2.1"/>
<rect x="81.6" y="575.3" width="217.6" height="128.10000000000002" fill="none" stroke="#000" stroke-width="1"/>
<line x1="75.40" y1="699.00" x2="81.6" y2="699.00" stroke="#000" stroke-width="1"/>
<line x1="75.40" y1="675.16" x2="81.6" y2="675.16" stroke="#000" stroke-width="1"/>
<line x1="75.40" y1="651.32" x2="81.6" y2="651.32" stroke="#000" stroke-width="1"/>
<line x1="75.40" y1="627.48" x2="81.6" y2="627.48" stroke="#000" stroke-width="1"/>
<line x1="75.40" y1="603.64" x2="81.6" y2="603.64" stroke="#000" stroke-width="1"/>
<line x1="75.40" y1="579.80" x2="81.6" y2="579.80" stroke="#000" stroke-width="1"/>
<text x="71.30" y="703.10" font-size="10" text-anchor="end" fill="#000">0</text>
<text x="71.30" y="679.26" font-size="10" text-anchor="end" fill="#000">20</text>
<text x="71.30" y="655.42" font-size="10" text-anchor="end" fill="#000">40</text>
<text x="71.30" y="631.58" font-size="10" text-anchor="end" fill="#000">60</text>
<text x="71.30" y="607.74" font-size="10" text-anchor="end" fill="#000">80</text>
<text x="71.30" y="583.90" font-size="10" text-anchor="end" fill="#000">100</text>
<text x="176.80" y="569.20" font-size="10"><tspan font-style="italic">p</tspan>=0.16</text>
<text x="256.70" y="569.20" font-size="10"><tspan font-style="italic">p</tspan>=0.16</text>
<text x="79.10" y="716.80" font-size="10" text-anchor="start" fill="#000">Pre-treatment</text>
<text x="160.70" y="716.80" font-size="10" text-anchor="start" fill="#000">On-treatment</text>
<text x="257.40" y="716.80" font-size="10" text-anchor="start" fill="#000">Surgery</text>
<text x="168.40" y="730.90" font-size="10" text-anchor="start" fill="#000">Timepoint</text>
<text x="48.00" y="639.35" font-size="10" text-anchor="middle" transform="rotate(-90 48.0 639.3499999999999)" fill="#000">Inflammatory cells (%)</text>
<rect x="73.0" y="521.9" width="12.8" height="12.9" fill="#F9A11B"/>
<text x="89.80" y="533.20" font-size="10" text-anchor="start" fill="#000">Decreasing or stable</text>
<rect x="215.0" y="521.9" width="12.8" height="12.9" fill="#3853A5"/>
<text x="232.40" y="533.20" font-size="10" text-anchor="start" fill="#000">Increasing</text>
<text x="369.90" y="329.20" font-size="14.5" text-anchor="start" font-weight="bold" fill="#000">d</text>
<rect x="438.30" y="460.30" width="59.00" height="6.30" fill="#8DD3C7" stroke="#000" stroke-width="0.9"/>
<rect x="438.30" y="442.40" width="59.00" height="17.90" fill="#FFFFB3" stroke="#000" stroke-width="0.9"/>
<rect x="438.30" y="430.30" width="59.00" height="12.10" fill="#BEBADA" stroke="#000" stroke-width="0.9"/>
<rect x="438.30" y="395.50" width="59.00" height="34.80" fill="#FB8072" stroke="#000" stroke-width="0.9"/>
<rect x="438.30" y="388.30" width="59.00" height="7.20" fill="#80B1D3" stroke="#000" stroke-width="0.9"/>
<rect x="438.30" y="375.30" width="59.00" height="13.00" fill="#B3DE69" stroke="#000" stroke-width="0.9"/>
<rect x="438.30" y="368.60" width="59.00" height="6.70" fill="#FCCDE5" stroke="#000" stroke-width="0.9"/>
<rect x="438.30" y="355.40" width="59.00" height="13.20" fill="#D9D9D9" stroke="#000" stroke-width="0.9"/>
<rect x="438.30" y="348.20" width="59.00" height="7.20" fill="#BC80BD" stroke="#000" stroke-width="0.9"/>
<rect x="438.30" y="338.60" width="59.00" height="9.60" fill="#CCEBC5" stroke="#000" stroke-width="0.9"/>
<rect x="509.40" y="460.20" width="59.00" height="6.40" fill="#8DD3C7" stroke="#000" stroke-width="0.9"/>
<rect x="509.40" y="441.30" width="59.00" height="18.90" fill="#FFFFB3" stroke="#000" stroke-width="0.9"/>
<rect x="509.40" y="431.70" width="59.00" height="9.60" fill="#BEBADA" stroke="#000" stroke-width="0.9"/>
<rect x="509.40" y="398.30" width="59.00" height="33.40" fill="#FB8072" stroke="#000" stroke-width="0.9"/>
<rect x="509.40" y="391.60" width="59.00" height="6.70" fill="#80B1D3" stroke="#000" stroke-width="0.9"/>
<rect x="509.40" y="391.10" width="59.00" height="0.50" fill="#FDB462" stroke="#000" stroke-width="0.9"/>
<rect x="509.40" y="378.10" width="59.00" height="13.00" fill="#B3DE69" stroke="#000" stroke-width="0.9"/>
<rect x="509.40" y="367.20" width="59.00" height="10.90" fill="#FCCDE5" stroke="#000" stroke-width="0.9"/>
<rect x="509.40" y="355.20" width="59.00" height="12.00" fill="#D9D9D9" stroke="#000" stroke-width="0.9"/>
<rect x="509.40" y="347.20" width="59.00" height="8.00" fill="#BC80BD" stroke="#000" stroke-width="0.9"/>
<rect x="509.40" y="338.60" width="59.00" height="8.60" fill="#CCEBC5" stroke="#000" stroke-width="0.9"/>
<rect x="580.50" y="461.30" width="58.90" height="5.30" fill="#8DD3C7" stroke="#000" stroke-width="0.9"/>
<rect x="580.50" y="441.30" width="58.90" height="20.00" fill="#FFFFB3" stroke="#000" stroke-width="0.9"/>
<rect x="580.50" y="434.40" width="58.90" height="6.90" fill="#BEBADA" stroke="#000" stroke-width="0.9"/>
<rect x="580.50" y="406.30" width="58.90" height="28.10" fill="#FB8072" stroke="#000" stroke-width="0.9"/>
<rect x="580.50" y="396.40" width="58.90" height="9.90" fill="#80B1D3" stroke="#000" stroke-width="0.9"/>
<rect x="580.50" y="377.30" width="58.90" height="19.10" fill="#B3DE69" stroke="#000" stroke-width="0.9"/>
<rect x="580.50" y="368.20" width="58.90" height="9.10" fill="#FCCDE5" stroke="#000" stroke-width="0.9"/>
<rect x="580.50" y="353.50" width="58.90" height="14.70" fill="#D9D9D9" stroke="#000" stroke-width="0.9"/>
<rect x="580.50" y="346.60" width="58.90" height="6.90" fill="#BC80BD" stroke="#000" stroke-width="0.9"/>
<rect x="580.50" y="338.60" width="58.90" height="8.00" fill="#CCEBC5" stroke="#000" stroke-width="0.9"/>
<line x1="430.0" y1="338.60" x2="430.0" y2="466.60" stroke="#000" stroke-width="1"/>
<line x1="424.1" y1="466.60" x2="430.0" y2="466.60" stroke="#000" stroke-width="1"/>
<text x="420.00" y="469.60" font-size="8.5" text-anchor="end" fill="#000">0.0</text>
<line x1="424.1" y1="441.00" x2="430.0" y2="441.00" stroke="#000" stroke-width="1"/>
<text x="420.00" y="444.00" font-size="8.5" text-anchor="end" fill="#000">0.2</text>
<line x1="424.1" y1="415.40" x2="430.0" y2="415.40" stroke="#000" stroke-width="1"/>
<text x="420.00" y="418.40" font-size="8.5" text-anchor="end" fill="#000">0.4</text>
<line x1="424.1" y1="389.80" x2="430.0" y2="389.80" stroke="#000" stroke-width="1"/>
<text x="420.00" y="392.80" font-size="8.5" text-anchor="end" fill="#000">0.6</text>
<line x1="424.1" y1="364.20" x2="430.0" y2="364.20" stroke="#000" stroke-width="1"/>
<text x="420.00" y="367.20" font-size="8.5" text-anchor="end" fill="#000">0.8</text>
<line x1="424.1" y1="338.60" x2="430.0" y2="338.60" stroke="#000" stroke-width="1"/>
<text x="420.00" y="341.60" font-size="8.5" text-anchor="end" fill="#000">1.0</text>
<text x="467.80" y="478.30" font-size="8.6" text-anchor="middle" fill="#000">Pre−treatment</text>
<text x="538.90" y="478.30" font-size="8.6" text-anchor="middle" fill="#000">On−treatment</text>
<text x="609.95" y="478.30" font-size="8.6" text-anchor="middle" fill="#000">Surgery</text>
<text x="389.80" y="402.60" font-size="8.6" text-anchor="middle" transform="rotate(-90 389.8 402.6)" fill="#000">Proportion of immune infiltrate</text>
<text x="400.20" y="402.60" font-size="8.6" text-anchor="middle" transform="rotate(-90 400.2 402.6)" fill="#000">(CIBERSORT)</text>
<rect x="438.30" y="660.20" width="59.00" height="28.80" fill="#8DD3C7" stroke="#000" stroke-width="0.9"/>
<rect x="438.30" y="659.00" width="59.00" height="1.20" fill="#FFFFB3" stroke="#000" stroke-width="0.9"/>
<rect x="438.30" y="648.90" width="59.00" height="10.10" fill="#BEBADA" stroke="#000" stroke-width="0.9"/>
<rect x="438.30" y="632.10" width="59.00" height="16.80" fill="#80B1D3" stroke="#000" stroke-width="0.9"/>
<rect x="438.30" y="623.80" width="59.00" height="8.30" fill="#FDB462" stroke="#000" stroke-width="0.9"/>
<rect x="438.30" y="592.00" width="59.00" height="31.80" fill="#B3DE69" stroke="#000" stroke-width="0.9"/>
<rect x="438.30" y="583.30" width="59.00" height="8.70" fill="#FCCDE5" stroke="#000" stroke-width="0.9"/>
<rect x="438.30" y="582.30" width="59.00" height="1.00" fill="#D9D9D9" stroke="#000" stroke-width="0.9"/>
<rect x="438.30" y="580.30" width="59.00" height="2.00" fill="#BC80BD" stroke="#000" stroke-width="0.9"/>
<rect x="438.30" y="561.50" width="59.00" height="18.80" fill="#CCEBC5" stroke="#000" stroke-width="0.9"/>
<rect x="509.40" y="665.40" width="59.00" height="23.60" fill="#8DD3C7" stroke="#000" stroke-width="0.9"/>
<rect x="509.40" y="660.40" width="59.00" height="5.00" fill="#FFFFB3" stroke="#000" stroke-width="0.9"/>
<rect x="509.40" y="651.10" width="59.00" height="9.30" fill="#BEBADA" stroke="#000" stroke-width="0.9"/>
<rect x="509.40" y="632.10" width="59.00" height="19.00" fill="#80B1D3" stroke="#000" stroke-width="0.9"/>
<rect x="509.40" y="625.70" width="59.00" height="6.40" fill="#FDB462" stroke="#000" stroke-width="0.9"/>
<rect x="509.40" y="591.80" width="59.00" height="33.90" fill="#B3DE69" stroke="#000" stroke-width="0.9"/>
<rect x="509.40" y="582.20" width="59.00" height="9.60" fill="#FCCDE5" stroke="#000" stroke-width="0.9"/>
<rect x="509.40" y="581.70" width="59.00" height="0.50" fill="#D9D9D9" stroke="#000" stroke-width="0.9"/>
<rect x="509.40" y="578.60" width="59.00" height="3.10" fill="#BC80BD" stroke="#000" stroke-width="0.9"/>
<rect x="509.40" y="561.50" width="59.00" height="17.10" fill="#CCEBC5" stroke="#000" stroke-width="0.9"/>
<rect x="580.50" y="663.00" width="58.90" height="26.00" fill="#8DD3C7" stroke="#000" stroke-width="0.9"/>
<rect x="580.50" y="660.10" width="58.90" height="2.90" fill="#FFFFB3" stroke="#000" stroke-width="0.9"/>
<rect x="580.50" y="652.00" width="58.90" height="8.10" fill="#BEBADA" stroke="#000" stroke-width="0.9"/>
<rect x="580.50" y="631.60" width="58.90" height="20.40" fill="#80B1D3" stroke="#000" stroke-width="0.9"/>
<rect x="580.50" y="625.50" width="58.90" height="6.10" fill="#FDB462" stroke="#000" stroke-width="0.9"/>
<rect x="580.50" y="591.10" width="58.90" height="34.40" fill="#B3DE69" stroke="#000" stroke-width="0.9"/>
<rect x="580.50" y="581.90" width="58.90" height="9.20" fill="#FCCDE5" stroke="#000" stroke-width="0.9"/>
<rect x="580.50" y="581.30" width="58.90" height="0.60" fill="#D9D9D9" stroke="#000" stroke-width="0.9"/>
<rect x="580.50" y="577.30" width="58.90" height="4.00" fill="#BC80BD" stroke="#000" stroke-width="0.9"/>
<rect x="580.50" y="561.50" width="58.90" height="15.80" fill="#CCEBC5" stroke="#000" stroke-width="0.9"/>
<line x1="430.0" y1="561.50" x2="430.0" y2="689.00" stroke="#000" stroke-width="1"/>
<line x1="424.1" y1="689.00" x2="430.0" y2="689.00" stroke="#000" stroke-width="1"/>
<text x="420.00" y="692.00" font-size="8.5" text-anchor="end" fill="#000">0.0</text>
<line x1="424.1" y1="663.50" x2="430.0" y2="663.50" stroke="#000" stroke-width="1"/>
<text x="420.00" y="666.50" font-size="8.5" text-anchor="end" fill="#000">0.2</text>
<line x1="424.1" y1="638.00" x2="430.0" y2="638.00" stroke="#000" stroke-width="1"/>
<text x="420.00" y="641.00" font-size="8.5" text-anchor="end" fill="#000">0.4</text>
<line x1="424.1" y1="612.50" x2="430.0" y2="612.50" stroke="#000" stroke-width="1"/>
<text x="420.00" y="615.50" font-size="8.5" text-anchor="end" fill="#000">0.6</text>
<line x1="424.1" y1="587.00" x2="430.0" y2="587.00" stroke="#000" stroke-width="1"/>
<text x="420.00" y="590.00" font-size="8.5" text-anchor="end" fill="#000">0.8</text>
<line x1="424.1" y1="561.50" x2="430.0" y2="561.50" stroke="#000" stroke-width="1"/>
<text x="420.00" y="564.50" font-size="8.5" text-anchor="end" fill="#000">1.0</text>
<text x="467.80" y="701.00" font-size="8.6" text-anchor="middle" fill="#000">Pre−treatment</text>
<text x="538.90" y="701.00" font-size="8.6" text-anchor="middle" fill="#000">On−treatment</text>
<text x="609.95" y="701.00" font-size="8.6" text-anchor="middle" fill="#000">Surgery</text>
<text x="389.30" y="625.25" font-size="8.6" text-anchor="middle" transform="rotate(-90 389.3 625.25)" fill="#000">Proportion of immune infiltrate</text>
<text x="400.50" y="625.25" font-size="8.6" text-anchor="middle" transform="rotate(-90 400.5 625.25)" fill="#000">(immunoStates)</text>
<rect x="450.1" y="490.70" width="6.6" height="6.2" fill="#CCEBC5" stroke="#000" stroke-width="0.9"/>
<text x="461.50" y="496.80" font-size="8.5" text-anchor="start" fill="#000">Other</text>
<rect x="450.1" y="501.48" width="6.6" height="6.2" fill="#BC80BD" stroke="#000" stroke-width="0.9"/>
<text x="461.50" y="507.58" font-size="8.5" text-anchor="start" fill="#000">B cells</text>
<rect x="450.1" y="512.26" width="6.6" height="6.2" fill="#D9D9D9" stroke="#000" stroke-width="0.9"/>
<text x="461.50" y="518.36" font-size="8.5" text-anchor="start" fill="#000">Plasma cells</text>
<rect x="450.1" y="523.04" width="6.6" height="6.2" fill="#FCCDE5" stroke="#000" stroke-width="0.9"/>
<text x="461.50" y="529.14" font-size="8.5" text-anchor="start" fill="#000">CD8+ T cells</text>
<rect x="450.1" y="533.82" width="6.6" height="6.2" fill="#B3DE69" stroke="#000" stroke-width="0.9"/>
<text x="461.50" y="539.92" font-size="8.5" text-anchor="start" fill="#000">CD4+ T cells</text>
<rect x="450.1" y="544.60" width="6.6" height="6.2" fill="#FDB462" stroke="#000" stroke-width="0.9"/>
<text x="461.50" y="550.70" font-size="8.5" text-anchor="start" fill="#000">Dendritic cells</text>
<rect x="542.2" y="490.70" width="6.6" height="6.2" fill="#80B1D3" stroke="#000" stroke-width="0.9"/>
<text x="553.40" y="496.80" font-size="8.5" text-anchor="start" fill="#000">NK cells</text>
<rect x="542.2" y="501.48" width="6.6" height="6.2" fill="#FB8072" stroke="#000" stroke-width="0.9"/>
<text x="553.40" y="507.58" font-size="8.5" text-anchor="start" fill="#000">M2 macrophages</text>
<rect x="542.2" y="512.26" width="6.6" height="6.2" fill="#BEBADA" stroke="#000" stroke-width="0.9"/>
<text x="553.40" y="518.36" font-size="8.5" text-anchor="start" fill="#000">M1 macrophages</text>
<rect x="542.2" y="523.04" width="6.6" height="6.2" fill="#FFFFB3" stroke="#000" stroke-width="0.9"/>
<text x="553.40" y="529.14" font-size="8.5" text-anchor="start" fill="#000">M0 macrophages</text>
<rect x="542.2" y="533.82" width="6.6" height="6.2" fill="#8DD3C7" stroke="#000" stroke-width="0.9"/>
<text x="553.40" y="539.92" font-size="8.5" text-anchor="start" fill="#000">Mast cells</text>
</svg>
</body></html>
